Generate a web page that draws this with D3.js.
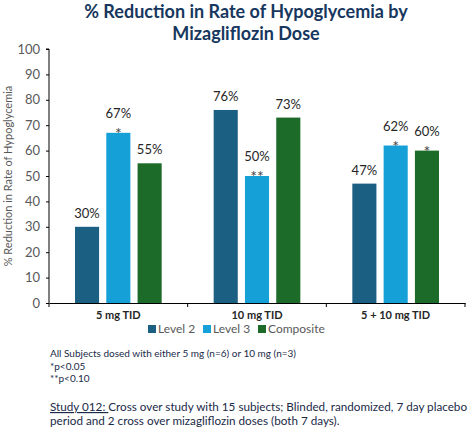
<!DOCTYPE html>
<html>
<head>
<meta charset="utf-8">
<script src="https://cdn.jsdelivr.net/npm/d3@7"></script>
<style>
  body { margin: 0; background: #fff; }
  text { font-family: Lato, "Open Sans", sans-serif; }
</style>
</head>
<body>
<div id="chart"></div>
<script>
// chart values
var categories = ["5 mg TID", "10 mg TID", "5 + 10 mg TID"];
var seriesNames = ["Level 2", "Level 3", "Composite"];
var level2 = [30, 76, 47];
var level3 = [67, 50, 62];
var composite = [55, 73, 60];
var level2Sig = ["", "", ""];
var level3Sig = ["*", "**", "*"];
var compositeSig = ["", "", "*"];
var yTicks = [0, 10, 20, 30, 40, 50, 60, 70, 80, 90, 100];
var notes = ["All Subjects dosed with either 5 mg (n=6) or 10 mg (n=3)", "*p<0.05", "**p<0.10"];

var colors = ["#1b5f82", "#15a0d8", "#1d6b29"];
var W = 468, H = 429;

var svg = d3.select("#chart").append("svg")
    .attr("width", W)
    .attr("height", H);

var values = [level2, level3, composite];
var sigs = [level2Sig, level3Sig, compositeSig];

var x0 = d3.scaleBand().domain(categories).range([49, 465]);
var x1 = d3.scaleBand().domain(seriesNames).range([26, x0.bandwidth() - 26]).paddingInner(0.23);
var y = d3.scaleLinear().domain([0, 100]).range([303, 49]);

// title
svg.append("text")
    .attr("x", 246).attr("y", 18)
    .attr("text-anchor", "middle")
    .style("font-size", "18px").style("font-weight", "bold").style("fill", "#17375e")
    .text("% Reduction in Rate of Hypoglycemia by");
svg.append("text")
    .attr("x", 246).attr("y", 40)
    .attr("text-anchor", "middle")
    .style("font-size", "18px").style("font-weight", "bold").style("fill", "#17375e")
    .text("Mizagliflozin Dose");

// y axis
var yAxis = svg.append("g")
    .attr("transform", "translate(49,0)")
    .call(d3.axisLeft(y).tickValues(yTicks).tickSize(3).tickPadding(6));
yAxis.select(".domain").attr("stroke", "#000").attr("d", "M-3," + y(100) + "H0V" + y(0));
yAxis.selectAll(".tick line").attr("stroke", "#000");
yAxis.selectAll(".tick text")
    .style("font-size", "13px").style("fill", "#595959")
    .style("font-family", "Lato, sans-serif");

svg.append("text")
    .attr("transform", "translate(12,176) rotate(-90)")
    .attr("text-anchor", "middle")
    .style("font-size", "11px").style("fill", "#595959")
    .text("% Reduction in Rate of Hypoglycemia");

// bars
var groups = svg.selectAll(".grp")
    .data(categories)
    .enter().append("g")
    .attr("class", "grp")
    .attr("transform", function (d) { return "translate(" + x0(d) + ",0)"; });

seriesNames.forEach(function (s, si) {
    groups.append("rect")
        .attr("x", x1(s))
        .attr("width", x1.bandwidth())
        .attr("y", function (d, i) { return y(values[si][i]); })
        .attr("height", function (d, i) { return y(0) - y(values[si][i]); })
        .attr("fill", colors[si]);

    groups.append("text")
        .attr("x", x1(s) + x1.bandwidth() / 2)
        .attr("y", function (d, i) {
            return y(values[si][i]) - (sigs[si][i] ? 15 : 9);
        })
        .attr("text-anchor", "middle")
        .style("font-size", "13px").style("fill", "#262626")
        .text(function (d, i) { return values[si][i] + "%"; });

    groups.append("text")
        .attr("x", x1(s) + x1.bandwidth() / 2)
        .attr("y", function (d, i) { return y(values[si][i]) + 6; })
        .attr("text-anchor", "middle")
        .style("font-size", "16px").style("fill", "#404040")
        .text(function (d, i) { return sigs[si][i]; });
});

// x axis
var xAxis = svg.append("g")
    .attr("transform", "translate(0,303)")
    .call(d3.axisBottom(x0).tickSize(0).tickPadding(8));
xAxis.select(".domain").attr("stroke", "#000");
xAxis.selectAll(".tick text")
    .style("font-size", "11px").style("font-weight", "bold").style("fill", "#262626");
xAxis.selectAll(".sep")
    .data(x0.domain().concat(["end"]))
    .enter().append("line")
    .attr("class", "sep")
    .attr("x1", function (d) { return d === "end" ? 465 : x0(d); })
    .attr("x2", function (d) { return d === "end" ? 465 : x0(d); })
    .attr("y1", 0).attr("y2", 4)
    .attr("stroke", "#000");

// legend
var legendX = [148, 203, 258];
var legend = svg.selectAll(".leg")
    .data(seriesNames)
    .enter().append("g")
    .attr("class", "leg")
    .attr("transform", function (d, i) { return "translate(" + legendX[i] + ",325)"; });
legend.append("rect")
    .attr("width", 8).attr("height", 8)
    .attr("fill", function (d, i) { return colors[i]; });
legend.append("text")
    .attr("x", 10).attr("y", 8)
    .style("font-size", "12px").style("fill", "#595959")
    .text(function (d) { return d; });

// footnotes
svg.selectAll(".note")
    .data(notes)
    .enter().append("text")
    .attr("class", "note")
    .attr("x", 50)
    .attr("y", function (d, i) { return 357 + i * 12.5; })
    .style("font-size", "10px").style("fill", "#1a2a48")
    .text(function (d) { return d; });

var study = svg.append("text")
    .attr("x", 50).attr("y", 411)
    .style("font-size", "11.7px").style("fill", "#1a2a48");
study.append("tspan").style("text-decoration", "underline").text("Study 012:\u00a0");
study.append("tspan").text("Cross over study with 15 subjects; Blinded, randomized, 7 day placebo");
svg.append("text")
    .attr("x", 50).attr("y", 425)
    .style("font-size", "11.7px").style("fill", "#1a2a48")
    .text("period and 2 cross over mizagliflozin doses (both 7 days).");
</script>
</body>
</html>
